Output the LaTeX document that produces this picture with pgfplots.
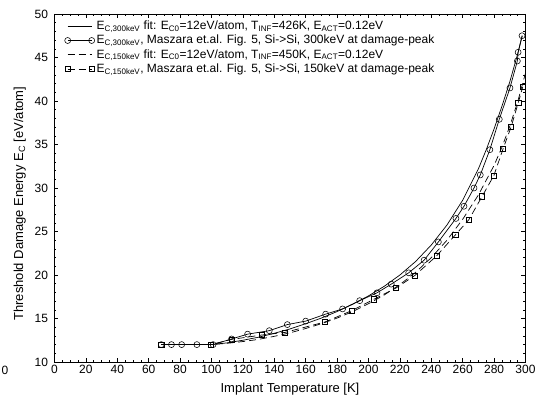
\documentclass[border=0pt]{standalone}
\usepackage{fontspec}
\setmainfont{Liberation Sans}
\usepackage{pgfplots}
\pgfplotsset{compat=1.18}
\begin{document}
\begin{tikzpicture}
\begin{axis}[
  scale only axis,
  width=471pt, height=348pt,
  xmin=0, xmax=300, ymin=10, ymax=50,
  xtick={0,20,...,300}, ytick={10,15,...,50},
  minor x tick num=3, minor y tick num=4,
  tick align=inside,
  major tick length=4pt, minor tick length=2pt,
  /pgf/number format/assume math mode=true,
  tick label style={font=\fontsize{12}{14}\selectfont},
  yticklabel style={xshift=-3pt},
  label style={font=\fontsize{13}{15}\selectfont},
  xlabel={Implant Temperature [K]},
  ylabel={Threshold Damage Energy E\textsubscript{C} [eV/atom]},
  ylabel style={at={(axis description cs:-0.074,0.455)}, anchor=center},
  xlabel style={yshift=-2pt},
  axis line style={line width=0.7pt},
  every tick/.style={line width=0.5pt, black},
  clip=false,
  legend cell align=left,
  legend style={draw=none, fill=none, at={(0,1)}, anchor=north west,
    xshift=7pt, yshift=-3pt,
    font=\fontsize{12}{14}\selectfont,
    row sep=0pt,
    nodes={text height=9.5pt, text depth=2.5pt, inner ysep=1.1pt, inner xsep=2pt}},
  legend image code/.code={\draw[mark repeat=1,mark phase=1,#1] plot coordinates {(0pt,0pt) (24pt,0pt)};},
]
% 300 keV fit
\addplot[black, line width=0.7pt, mark=none] coordinates {
(68,12.0) (100,12.0) (110,12.2) (120,12.5) (130,12.85) (140,13.3) (150,13.8)
(160,14.4) (170,15.05) (180,15.8) (190,16.65) (200,17.6) (210,18.7) (220,20.0)
(230,21.55) (240,23.45) (250,25.75) (260,28.6) (270,32.2) (275,34.4) (280,36.8)
(285,39.4) (290,42.2) (295,45.4) (298,47.5)};
\addlegendentry{E\textsubscript{C,300keV} fit: E\textsubscript{C0}=12eV/atom, T\textsubscript{INF}=426K, E\textsubscript{ACT}=0.12eV}
% 300 keV data
\addplot[black, line width=0.7pt, mark=o, mark size=3pt, mark options={solid, line width=0.55pt}] coordinates {
(68,12.0) (74.5,12.0) (81,12.0) (90.7,12.0) (101,12.0) (112.8,12.65) (123,13.2)
(136.8,13.6) (148.3,14.3) (160,14.7) (172.7,15.5) (183.5,16.1) (194.4,17.05)
(205.4,17.95) (214.5,18.95) (225.6,20.25) (235.4,21.7) (244.5,23.8) (255.7,26.5)
(260.8,27.9) (267.2,30.0) (271.2,31.5) (277.3,34.4) (283.3,37.9) (290.1,41.5)
(294.8,44.6) (295.3,45.6) (297.8,47.5)};
\addlegendentry{E\textsubscript{C,300keV}, Maszara et.al. Fig. 5, Si->Si, 300keV at damage-peak}
% 150 keV fit
\addplot[black, line width=0.7pt, mark=none, dash pattern=on 7pt off 4pt] coordinates {
(68,12.0) (100,12.0) (110,12.15) (120,12.35) (130,12.6) (140,12.95) (150,13.35)
(160,13.85) (170,14.4) (180,15.05) (190,15.8) (200,16.7) (210,17.7) (220,18.9)
(230,20.3) (240,22.0) (250,24.0) (260,26.4) (270,29.2) (280,32.6) (285,34.7)
(290,37.1) (295,39.9) (300,43.2)};
\addlegendentry{E\textsubscript{C,150keV} fit: E\textsubscript{C0}=12eV/atom, T\textsubscript{INF}=450K, E\textsubscript{ACT}=0.12eV}
% 150 keV data
\addplot[black, line width=0.7pt, dash pattern=on 7pt off 4pt, mark=square, mark size=2.6pt, mark options={solid, line width=0.55pt}] coordinates {
(68,12.0) (99.5,12.0) (112.9,12.6) (132,13.1) (146.8,13.4) (172.3,14.6) (189.3,15.9)
(203.3,17.2) (217.5,18.5) (229.6,19.95) (243.4,22.2) (255.3,24.6) (263.9,26.35)
(272.4,29.05) (279.9,31.45) (285.7,34.5) (290.8,37.0) (295.4,39.8) (298.2,41.6)};
\addlegendentry{E\textsubscript{C,150keV}, Maszara et.al. Fig. 5, Si->Si, 150keV at damage-peak}
\node[anchor=north, font=\fontsize{12}{14}\selectfont, inner sep=0pt] at (axis cs:-31.5,9.5) {0};
\end{axis}
\pgfresetboundingbox
\useasboundingbox (current axis.south west) ++(-54.5pt,-42pt) rectangle ++(539pt,404pt);
\end{tikzpicture}
\end{document}
